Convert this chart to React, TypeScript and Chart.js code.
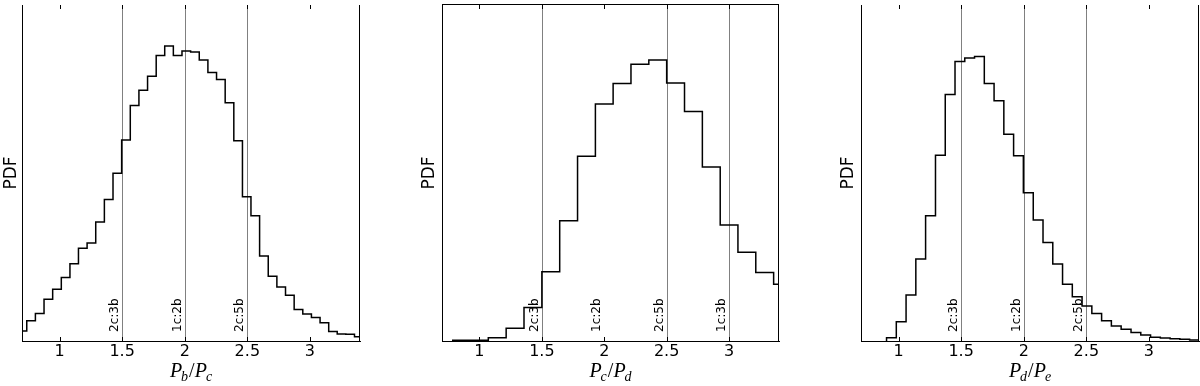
import React, { useEffect, useRef } from "react";
import { Chart, registerables } from "chart.js";

Chart.register(...registerables);

// ---------- data ----------
const X_MIN = 0.7;
const X_MAX = 3.4;
const X_TICKS = [1, 1.5, 2, 2.5, 3];
const X_TICK_LABELS = ["1", "1.5", "2", "2.5", "3"];
const Y_LABEL = "PDF";

// Panel 1: P_b / P_c  (bin edges and normalised PDF per bin)
const EDGES_BC = [0.669, 0.738, 0.807, 0.876, 0.945, 1.014, 1.083, 1.151, 1.22, 1.289, 1.358, 1.427, 1.496, 1.565, 1.634, 1.703, 1.772, 1.84, 1.909, 1.978, 2.047, 2.116, 2.185, 2.254, 2.323, 2.392, 2.461, 2.529, 2.598, 2.667, 2.736, 2.805, 2.874, 2.943, 3.012, 3.081, 3.15, 3.218, 3.287, 3.356, 3.425];
const PDF_BC = [0.03, 0.06, 0.082, 0.124, 0.154, 0.189, 0.23, 0.276, 0.292, 0.354, 0.421, 0.499, 0.598, 0.701, 0.746, 0.788, 0.85, 0.878, 0.85, 0.863, 0.86, 0.836, 0.799, 0.778, 0.709, 0.596, 0.429, 0.373, 0.253, 0.193, 0.161, 0.136, 0.094, 0.08, 0.07, 0.054, 0.028, 0.021, 0.02, 0.013];
const RES_LINES_BC = [1.5, 2, 2.5];
const RES_POS_BC = [1.5, 2, 2.5];
const RES_TEXT_BC = ["2c:3b", "1c:2b", "2c:5b"];
const RATIO_BC = ["b", "c"];

// Panel 2: P_c / P_d
const EDGES_CD = [0.786, 0.929, 1.071, 1.214, 1.357, 1.5, 1.643, 1.786, 1.929, 2.071, 2.214, 2.357, 2.5, 2.643, 2.786, 2.929, 3.071, 3.214, 3.357, 3.5];
const PDF_CD = [0.002, 0.002, 0.01, 0.038, 0.1, 0.206, 0.358, 0.55, 0.705, 0.766, 0.824, 0.836, 0.768, 0.683, 0.518, 0.345, 0.264, 0.204, 0.169];
const RES_LINES_CD = [1.5, 2.5, 3];
const RES_POS_CD = [1.5, 2, 2.5, 3];
const RES_TEXT_CD = ["2c:3b", "1c:2b", "2c:5b", "1c:3b"];
const RATIO_CD = ["c", "d"];

// Panel 3: P_d / P_e
const EDGES_DE = [0.904, 0.982, 1.06, 1.138, 1.216, 1.295, 1.373, 1.451, 1.529, 1.607, 1.685, 1.763, 1.841, 1.919, 1.997, 2.076, 2.154, 2.232, 2.31, 2.388, 2.466, 2.544, 2.622, 2.7, 2.778, 2.857, 2.935, 3.013, 3.091, 3.169, 3.247, 3.325, 3.403];
const PDF_DE = [0.01, 0.057, 0.137, 0.244, 0.373, 0.553, 0.734, 0.832, 0.842, 0.847, 0.766, 0.715, 0.615, 0.551, 0.441, 0.36, 0.293, 0.229, 0.169, 0.132, 0.104, 0.082, 0.06, 0.045, 0.035, 0.025, 0.018, 0.011, 0.009, 0.007, 0.005, 0.003];
const RES_LINES_DE = [1.5, 2, 2.5];
const RES_POS_DE = [1.5, 2, 2.5];
const RES_TEXT_DE = ["2c:3b", "1c:2b", "2c:5b"];
const RATIO_DE = ["d", "e"];

// ---------- layout ----------
type Spec = {
  edges: number[];
  pdf: number[];
  lines: number[];
  resX: number[];
  resText: string[];
  ratio: string[];
  padLeft: number;
  yWidth: number;
  padRight: number;
  topSpine: boolean;
};

const SPECS: Spec[] = [
  { edges: EDGES_BC, pdf: PDF_BC, lines: RES_LINES_BC, resX: RES_POS_BC, resText: RES_TEXT_BC, ratio: RATIO_BC, padLeft: 1, yWidth: 21, padRight: 40, topSpine: false },
  { edges: EDGES_CD, pdf: PDF_CD, lines: RES_LINES_CD, resX: RES_POS_CD, resText: RES_TEXT_CD, ratio: RATIO_CD, padLeft: 19, yWidth: 23, padRight: 21, topSpine: true },
  { edges: EDGES_DE, pdf: PDF_DE, lines: RES_LINES_DE, resX: RES_POS_DE, resText: RES_TEXT_DE, ratio: RATIO_DE, padLeft: 38, yWidth: 23, padRight: 1, topSpine: false },
];

function Panel({ spec }: { spec: Spec }) {
  const ref = useRef<HTMLCanvasElement>(null);

  useEffect(() => {
    if (!ref.current) return;
    const n = spec.pdf.length;
    const pts: { x: number; y: number }[] = [{ x: spec.edges[0], y: 0 }];
    for (let i = 0; i < n; i++) pts.push({ x: spec.edges[i], y: spec.pdf[i] });
    pts.push({ x: spec.edges[n], y: spec.pdf[n - 1] });
    pts.push({ x: spec.edges[n], y: 0 });

    const decor = {
      id: "decor",
      beforeDatasetsDraw(chart: any) {
        const { ctx, chartArea: a } = chart;
        const x = chart.scales.x;
        ctx.save();
        ctx.strokeStyle = "#808080";
        ctx.lineWidth = 1;
        for (const v of spec.lines) {
          const px = Math.round(x.getPixelForValue(v)) + 0.5;
          ctx.beginPath();
          ctx.moveTo(px, a.top);
          ctx.lineTo(px, a.bottom);
          ctx.stroke();
        }
        ctx.fillStyle = "#000";
        ctx.font = '12px "DejaVu Sans"';
        ctx.textAlign = "left";
        ctx.textBaseline = "alphabetic";
        spec.resX.forEach((v, i) => {
          const px = x.getPixelForValue(v);
          ctx.save();
          ctx.translate(px - 4, a.bottom - 9);
          ctx.rotate(-Math.PI / 2);
          ctx.fillText(spec.resText[i], 0, 0);
          ctx.restore();
        });
        ctx.restore();
      },
      afterDraw(chart: any) {
        const { ctx, chartArea: a } = chart;
        const x = chart.scales.x;
        ctx.save();
        ctx.strokeStyle = "#000";
        ctx.lineWidth = 1;
        // right spine
        const rx = Math.round(a.right) - 0.5;
        ctx.beginPath();
        ctx.moveTo(rx, a.top);
        ctx.lineTo(rx, a.bottom);
        ctx.stroke();
        if (spec.topSpine) {
          const ty = Math.round(a.top) - 0.5;
          ctx.beginPath();
          ctx.moveTo(a.left, ty);
          ctx.lineTo(a.right, ty);
          ctx.stroke();
        }
        // inward ticks
        for (const v of X_TICKS) {
          const px = Math.round(x.getPixelForValue(v)) + 0.5;
          ctx.beginPath();
          ctx.moveTo(px, a.bottom);
          ctx.lineTo(px, a.bottom - 4);
          ctx.moveTo(px, a.top);
          ctx.lineTo(px, a.top + 4);
          ctx.stroke();
        }
        // x axis title  P_a / P_b
        const big = 'italic 20px "Liberation Serif"';
        const small = 'italic 14px "Liberation Serif"';
        const slash = '20px "Liberation Serif"';
        const parts = [
          { t: "P", f: big, dy: 0, kern: 0 },
          { t: spec.ratio[0], f: small, dy: 4, kern: -1 },
          { t: "/", f: slash, dy: 0, kern: 1 },
          { t: "P", f: big, dy: 0, kern: 0 },
          { t: spec.ratio[1], f: small, dy: 4, kern: -1 },
        ];
        let total = 0;
        const widths = parts.map((p) => {
          ctx.font = p.f;
          const w = ctx.measureText(p.t).width;
          total += w + p.kern;
          return w;
        });
        let cx = (a.left + a.right) / 2 - total / 2;
        const by = a.bottom + 36;
        ctx.fillStyle = "#000";
        ctx.textAlign = "left";
        ctx.textBaseline = "alphabetic";
        parts.forEach((p, i) => {
          cx += p.kern;
          ctx.font = p.f;
          ctx.fillText(p.t, cx, by + p.dy);
          cx += widths[i];
        });
        ctx.restore();
      },
    };

    const chart = new Chart(ref.current, {
      type: "line",
      data: {
        datasets: [
          {
            data: pts,
            stepped: "before",
            borderColor: "#000",
            borderWidth: 1.5,
            pointRadius: 0,
            fill: false,
            tension: 0,
          },
        ],
      },
      options: {
        responsive: false,
        maintainAspectRatio: false,
        devicePixelRatio: 1,
        animation: false,
        events: [],
        layout: { padding: { left: spec.padLeft, right: spec.padRight, top: 5, bottom: 0 } },
        plugins: { legend: { display: false }, tooltip: { enabled: false } },
        scales: {
          x: {
            type: "linear",
            min: X_MIN,
            max: X_MAX,
            grid: { display: false, drawTicks: false },
            border: { display: true, color: "#000", width: 1 },
            afterBuildTicks: (scale: any) => {
              scale.ticks = X_TICKS.map((v) => ({ value: v }));
            },
            afterFit: (scale: any) => {
              scale.height = 45;
            },
            ticks: {
              autoSkip: false,
              maxRotation: 0,
              padding: 1.5,
              color: "#000",
              font: { family: "DejaVu Sans", size: 16 },
              callback: (v: any) => {
                const i = X_TICKS.indexOf(Number(v));
                return i >= 0 ? X_TICK_LABELS[i] : "";
              },
            },
          },
          y: {
            type: "linear",
            min: 0,
            max: 1,
            grid: { display: false, drawTicks: false },
            border: { display: true, color: "#000", width: 1 },
            ticks: { display: false },
            title: {
              display: true,
              text: Y_LABEL,
              color: "#000",
              padding: 0,
              font: { family: "DejaVu Sans", size: 17 },
            },
            afterFit: (scale: any) => {
              scale.width = spec.yWidth;
            },
          },
        },
      },
      plugins: [decor],
    } as any);

    return () => chart.destroy();
  }, [spec]);

  return (
    <div style={{ width: 400, height: 386 }}>
      <canvas ref={ref} width={400} height={386} style={{ display: "block", width: 400, height: 386 }} />
    </div>
  );
}

export default function App() {
  return (
    <div
      style={{
        position: "absolute",
        left: 0,
        top: 0,
        width: 1200,
        height: 386,
        display: "flex",
        background: "#fff",
      }}
    >
      {SPECS.map((s, i) => (
        <Panel key={i} spec={s} />
      ))}
    </div>
  );
}
